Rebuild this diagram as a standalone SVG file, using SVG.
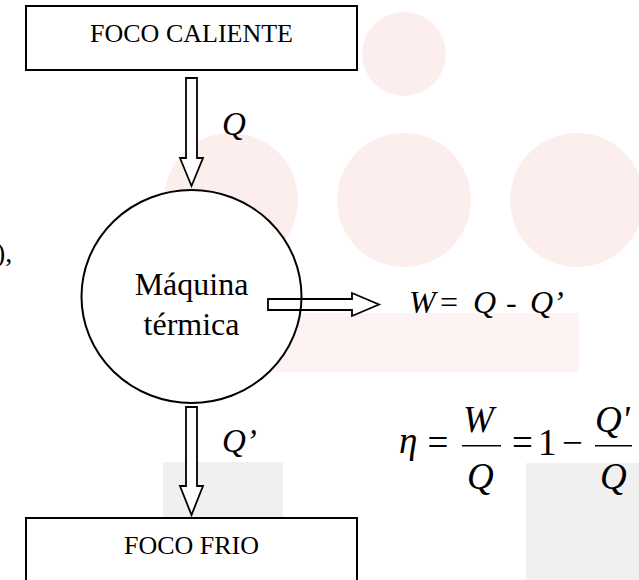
<svg xmlns="http://www.w3.org/2000/svg" width="639" height="580" viewBox="0 0 639 580">
<style>
.bg-c{fill:#fdeeee}
.bg-r{fill:#fef3f3}
.bg-g{fill:#f0f0f0}
.box{fill:#ffffff;stroke:#000;stroke-width:2}
.arr{fill:#ffffff;stroke:#000;stroke-width:1.8;stroke-linejoin:miter}
.arr-open{fill:none;stroke:#000;stroke-width:1.8}
.t{font-family:"Liberation Serif","Times New Roman",serif;fill:#000}
.i{font-style:italic}
.bar{stroke:#000;stroke-width:1.4}
</style>
<g id="background">
<circle class="bg-c" cx="404" cy="54" r="42"/>
<circle class="bg-c" cx="231" cy="200" r="67"/>
<circle class="bg-c" cx="404" cy="200" r="67"/>
<circle class="bg-c" cx="577" cy="200" r="67"/>
<rect class="bg-r" x="261" y="313" width="318" height="59"/>
<rect class="bg-g" x="163" y="462" width="120" height="118"/>
<rect class="bg-g" x="526" y="463" width="113" height="117"/>
</g>
<text class="t" x="-4" y="262" font-size="28">),</text>
<g id="foco-caliente">
<rect class="box" x="26" y="6" width="331" height="64"/>
<text class="t" x="191.5" y="42" font-size="26" text-anchor="middle">FOCO CALIENTE</text>
</g>
<g id="maquina">
<ellipse class="box" cx="191.5" cy="296.5" rx="110" ry="106.5"/>
<text class="t" x="191.5" y="295" font-size="32" text-anchor="middle">Máquina</text>
<text class="t" x="191.5" y="335" font-size="32" text-anchor="middle">térmica</text>
</g>
<g id="foco-frio">
<rect class="box" x="26" y="518" width="331" height="80"/>
<text class="t" x="191.5" y="554" font-size="26" text-anchor="middle">FOCO FRIO</text>
</g>
<g id="connectors">
<polygon class="arr" points="186,78 197,78 197,158 203,158 191.5,186 180,158 186,158"/>
<polygon class="arr" points="186,407 197,407 197,486 203,486 191.5,515 180,486 186,486"/>
<polygon class="arr-open" points="268,299 352,299 352,293 379,304.5 352,316 352,310 268,310"/>
</g>
<g id="labels">
<text class="t i" x="222" y="135" font-size="33">Q</text>
<text class="t i" x="222" y="452" font-size="33">Q’</text>
<text class="t" y="313" font-size="32"><tspan class="i" x="409">W</tspan><tspan x="440">=</tspan><tspan class="i" x="473">Q</tspan><tspan x="506">-</tspan><tspan class="i" x="530">Q’</tspan></text>
</g>
<g id="equation">
<text class="t i" x="399" y="453" font-size="37">η</text>
<text class="t" x="438" y="455" font-size="37" text-anchor="middle">=</text>
<text class="t i" x="463" y="432" font-size="37">W</text>
<line class="bar" x1="462" y1="445.7" x2="501" y2="445.7"/>
<text class="t i" x="467" y="489" font-size="37">Q</text>
<text class="t" x="522.5" y="455" font-size="37" text-anchor="middle">=</text>
<text class="t" x="538" y="455" font-size="37">1</text>
<text class="t" x="572.5" y="455" font-size="37" text-anchor="middle">−</text>
<text class="t i" x="595" y="432" font-size="37">Q'</text>
<line class="bar" x1="595" y1="445.7" x2="632" y2="445.7"/>
<text class="t i" x="600" y="489" font-size="37">Q</text>
</g>
</svg>
